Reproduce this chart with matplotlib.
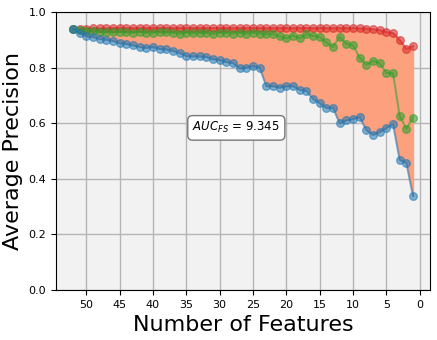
import numpy as np
import matplotlib.pyplot as plt

n_features = list(range(52, 0, -1))

# top curve (red)
best = [0.938, 0.940, 0.940, 0.941, 0.941, 0.941, 0.942, 0.942, 0.942, 0.942,
        0.942, 0.942, 0.942, 0.942, 0.942, 0.942, 0.942, 0.942, 0.942, 0.942,
        0.942, 0.942, 0.942, 0.942, 0.942, 0.942, 0.942, 0.942, 0.942, 0.942,
        0.942, 0.942, 0.942, 0.942, 0.942, 0.942, 0.942, 0.942, 0.942, 0.942,
        0.942, 0.942, 0.942, 0.941, 0.940, 0.938, 0.935, 0.928, 0.924, 0.900,
        0.867, 0.878]

# middle curve (green)
selected = [0.937, 0.934, 0.932, 0.930, 0.928, 0.928, 0.926, 0.928, 0.926, 0.925,
            0.928, 0.925, 0.925, 0.927, 0.926, 0.925, 0.922, 0.925, 0.923, 0.924,
            0.925, 0.920, 0.925, 0.924, 0.922, 0.925, 0.922, 0.925, 0.922, 0.920,
            0.920, 0.912, 0.905, 0.915, 0.905, 0.920, 0.914, 0.910, 0.890, 0.874,
            0.910, 0.885, 0.880, 0.835, 0.810, 0.824, 0.816, 0.780, 0.780, 0.626,
            0.580, 0.620]

# bottom curve (blue)
worst = [0.938, 0.925, 0.912, 0.910, 0.903, 0.900, 0.896, 0.888, 0.885, 0.880,
         0.874, 0.871, 0.874, 0.867, 0.865, 0.860, 0.852, 0.842, 0.840, 0.840,
         0.838, 0.830, 0.827, 0.820, 0.816, 0.797, 0.800, 0.805, 0.800, 0.733,
         0.733, 0.728, 0.733, 0.733, 0.720, 0.716, 0.687, 0.672, 0.655, 0.655,
         0.600, 0.610, 0.615, 0.622, 0.575, 0.558, 0.568, 0.583, 0.597, 0.468,
         0.457, 0.338]

auc_text = r"$AUC_{FS}$ = 9.345"

fig = plt.figure(figsize=(4.37, 3.40), dpi=100)
ax = fig.add_axes([0.128, 0.147, 0.856, 0.818])
ax.set_facecolor("#f2f2f2")

ax.fill_between(n_features, worst, best, color="#fca07e", zorder=1)
ax.plot(n_features, best, "o-", color="#d62728", alpha=0.55, ms=5.5, lw=1.5, zorder=3)
ax.plot(n_features, selected, "o-", color="#2ca02c", alpha=0.55, ms=5.5, lw=1.5, zorder=3)
ax.plot(n_features, worst, "o-", color="#1f77b4", alpha=0.55, ms=5.5, lw=1.5, zorder=3)

ax.text(27.5, 0.583, auc_text, fontsize=8.5, ha="center", va="center",
        bbox=dict(boxstyle="round,pad=0.4", fc="white", ec="#777777"), zorder=4)

ax.set_xlim(54.55, -1.55)
ax.set_ylim(0, 1)
ax.set_xticks(range(50, -1, -5))
ax.set_yticks(np.arange(0, 1.01, 0.2))
ax.set_yticklabels([f"{v:.1f}" for v in np.arange(0, 1.01, 0.2)])
ax.tick_params(labelsize=8)
ax.grid(True, color="#b5b5b5", lw=1.0, zorder=0)
ax.set_axisbelow(True)

ax.set_xlabel("Number of Features", fontsize=16)
ax.set_ylabel("Average Precision", fontsize=16)

plt.savefig("out.png", dpi=100)
